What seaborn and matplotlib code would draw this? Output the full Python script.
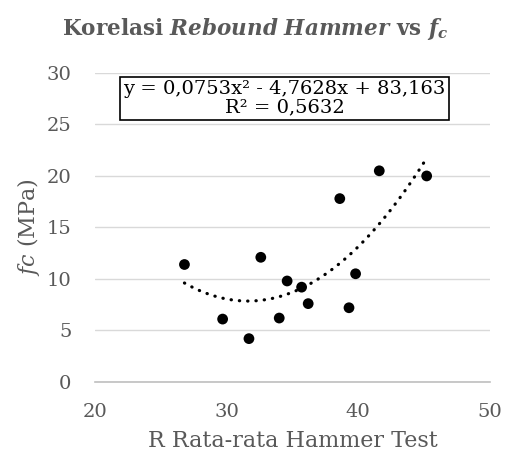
import numpy as np
import pandas as pd
import matplotlib
matplotlib.use("Agg")
import matplotlib.pyplot as plt
import seaborn as sns

# data
r_hammer = [26.8, 29.7, 31.7, 32.6, 34.0, 34.6, 35.7, 36.2, 38.6, 39.3, 39.8, 41.6, 45.2]
fc_mpa = [11.4, 6.1, 4.2, 12.1, 6.2, 9.8, 9.2, 7.6, 17.8, 7.2, 10.5, 20.5, 20.0]

# trendline coefficients as printed on the chart
coef = [0.0753, -4.7628, 83.163]
eq_text = "y = 0,0753x² - 4,7628x + 83,163\nR² = 0,5632"

x_ticks = [20, 30, 40, 50]
y_ticks = [0, 5, 10, 15, 20, 25, 30]

df = pd.DataFrame({"R": r_hammer, "fc": fc_mpa})

sns.set_theme(style="white")
plt.rcParams["font.family"] = ["DejaVu Serif"]
plt.rcParams["mathtext.fontset"] = "custom"
plt.rcParams["mathtext.rm"] = "DejaVu Serif"
plt.rcParams["mathtext.it"] = "DejaVu Serif:italic"
plt.rcParams["mathtext.bf"] = "DejaVu Serif:bold"
plt.rcParams["mathtext.bfit"] = "DejaVu Serif:italic:bold"

grey = "#595959"

fig = plt.figure(figsize=(5.05, 4.59), dpi=100)
ax = fig.add_axes([0.188, 0.168, 0.782, 0.673])

# trendline
xs = np.linspace(min(r_hammer), max(r_hammer), 200)
trend = pd.DataFrame({"R": xs, "fc": np.polyval(coef, xs)})
sns.lineplot(data=trend, x="R", y="fc", ax=ax, color="black", lw=2.3,
             linestyle=(0, (0.1, 2.5)), dash_capstyle="round")

sns.scatterplot(data=df, x="R", y="fc", ax=ax, color="black", s=60,
                edgecolor="none", zorder=3)

ax.set_xlim(20, 50)
ax.set_ylim(0, 30)
ax.set_xticks(x_ticks)
ax.set_yticks(y_ticks)
ax.yaxis.grid(True, color="#d9d9d9", lw=1)
ax.xaxis.grid(False)
for s in ["top", "right", "left"]:
    ax.spines[s].set_visible(False)
ax.spines["bottom"].set_color("#bfbfbf")
ax.spines["bottom"].set_linewidth(1.2)
ax.tick_params(length=0, labelsize=14, colors=grey)
ax.tick_params(axis="x", pad=15)
ax.tick_params(axis="y", pad=17)

ax.set_xlabel("R Rata-rata Hammer Test", fontsize=16, color=grey, labelpad=7)
ax.set_ylabel(r"$\mathit{fc}$ (MPa)", fontsize=16, color=grey, labelpad=3)

fig.text(0.505, 0.937, r"Korelasi $\mathbfit{Rebound\ Hammer}$ vs $\mathbfit{f_c}$",
         ha="center", va="center", fontsize=15.5, fontweight="bold", color=grey)

ax.text(0.48, 0.918, eq_text, transform=ax.transAxes, ha="center", va="center",
        fontsize=14, color="black", linespacing=1.0,
        bbox=dict(boxstyle="square,pad=0.18", fc="white", ec="black", lw=1.2))

fig.savefig("out.png", dpi=100)
